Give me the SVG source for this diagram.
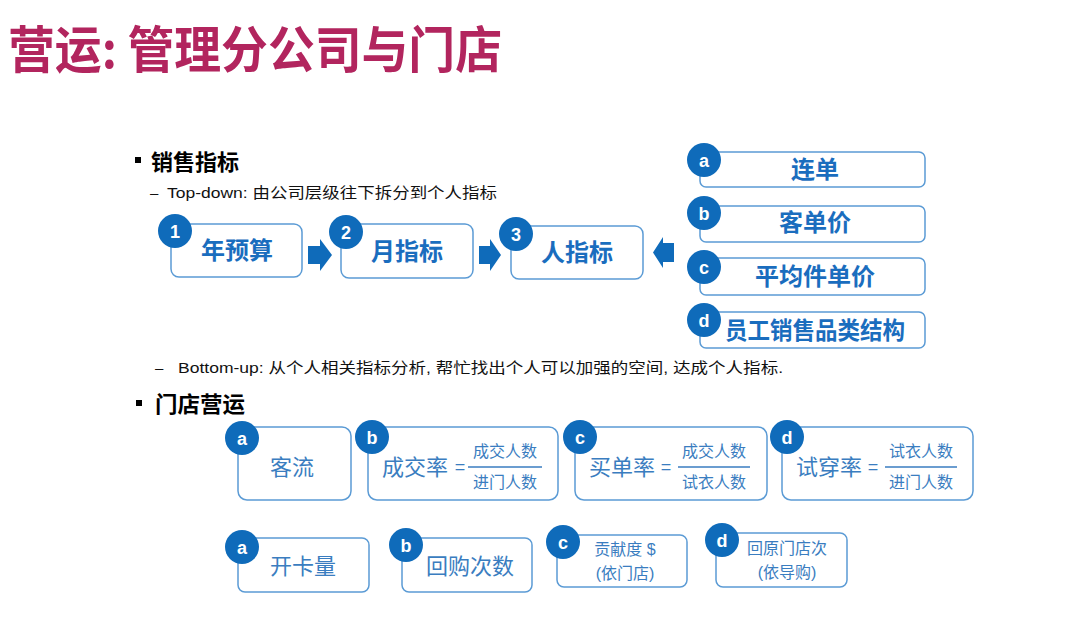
<svg xmlns="http://www.w3.org/2000/svg" width="1080" height="631" viewBox="0 0 1080 631">
<style>
.box{fill:#fff;stroke:#5B9BD5;stroke-width:1.5}
.dot{fill:#0F6BBA}
.lbl{font-family:"Liberation Sans","Noto Sans CJK SC",sans-serif;font-weight:bold;font-size:18px;fill:#fff;text-anchor:middle}
.bt{font-family:"Noto Sans CJK SC",sans-serif;font-weight:bold;font-size:24px;fill:#1A6DBE;text-anchor:middle}
.nt{font-family:"Noto Sans CJK SC",sans-serif;font-size:22px;fill:#3A7DC0;text-anchor:middle}
.sm{font-family:"Liberation Sans","Noto Sans CJK SC",sans-serif;font-size:16px;fill:#3A7DC0;text-anchor:middle}
.eq{font-family:"Liberation Sans",sans-serif;font-size:18px;fill:#3A7DC0;text-anchor:middle}
.fl{stroke:#3A7DC0;stroke-width:1.5}
.body{font-family:"Liberation Sans","Noto Sans CJK SC",sans-serif;font-size:15px;fill:#111}
.head{font-family:"Noto Sans CJK SC",sans-serif;font-weight:bold;font-size:22px;fill:#000}
.arr{fill:#0F6BBA}
</style>
<rect width="1080" height="631" fill="#fff"/>
<text x="8" y="68" font-family="'Noto Sans CJK SC',sans-serif" font-weight="bold" font-size="50" fill="#B2255E" textLength="494" lengthAdjust="spacingAndGlyphs">营运: 管理分公司与门店</text>

<rect x="135" y="157" width="6" height="6" fill="#000"/>
<text class="head" x="151" y="170" textLength="88" lengthAdjust="spacingAndGlyphs">销售指标</text>
<text class="body" x="150" y="198">–</text>
<text class="body" x="167" y="198" textLength="330" lengthAdjust="spacingAndGlyphs">Top-down: 由公司层级往下拆分到个人指标</text>

<g id="n1"><rect class="box" x="171" y="224" width="131" height="53" rx="8"/><circle class="dot" cx="175" cy="231" r="17"/><text class="lbl" x="175" y="238">1</text><text class="bt" x="237" y="259">年预算</text></g>
<g id="n2"><rect class="box" x="341" y="224" width="132" height="54" rx="8"/><circle class="dot" cx="346" cy="232" r="17"/><text class="lbl" x="346" y="239">2</text><text class="bt" x="407" y="260">月指标</text></g>
<g id="n3"><rect class="box" x="511" y="226" width="132" height="53" rx="8"/><circle class="dot" cx="516" cy="234" r="17"/><text class="lbl" x="516" y="241">3</text><text class="bt" x="577" y="261">人指标</text></g>

<g id="ka"><rect class="box" x="700" y="152" width="225" height="35" rx="6"/><circle class="dot" cx="704" cy="160" r="17"/><text class="lbl" x="704" y="167">a</text><text class="bt" x="815" y="178">连单</text></g>
<g id="kb"><rect class="box" x="700" y="206" width="225" height="36" rx="6"/><circle class="dot" cx="704" cy="213" r="17"/><text class="lbl" x="704" y="220">b</text><text class="bt" x="815" y="231">客单价</text></g>
<g id="kc"><rect class="box" x="700" y="258" width="225" height="37" rx="6"/><circle class="dot" cx="704" cy="267" r="17"/><text class="lbl" x="704" y="274">c</text><text class="bt" x="815" y="285">平均件单价</text></g>
<g id="kd"><rect class="box" x="700" y="312" width="225" height="36" rx="6"/><circle class="dot" cx="704" cy="320" r="17"/><text class="lbl" x="704" y="327">d</text><text class="bt" x="815" y="339" textLength="180" lengthAdjust="spacingAndGlyphs">员工销售品类结构</text></g>

<g id="connectors">
<path class="arr" d="M308,246 H320 V239 L332,255 L320,271 V264 H308 Z"/>
<path class="arr" d="M479,246 H490 V239 L501,255 L490,271 V264 H479 Z"/>
<path class="arr" d="M674,243 H663 V237 L653,252.5 L663,268 V262 H674 Z"/>
</g>

<text class="body" x="155" y="373">–</text>
<text class="body" x="178" y="373" textLength="605" lengthAdjust="spacingAndGlyphs">Bottom-up: 从个人相关指标分析, 帮忙找出个人可以加强的空间, 达成个人指标.</text>

<rect x="136" y="400" width="6" height="6" fill="#000"/>
<text class="head" x="155" y="412" textLength="90" lengthAdjust="spacingAndGlyphs">门店营运</text>

<g id="sa"><rect class="box" x="238" y="427" width="113" height="73" rx="9"/><circle class="dot" cx="242" cy="438" r="17"/><text class="lbl" x="242" y="445">a</text><text class="nt" x="292" y="475">客流</text></g>
<g id="sb"><rect class="box" x="368" y="427" width="190" height="73" rx="9"/><circle class="dot" cx="372" cy="437" r="17"/><text class="lbl" x="372" y="444">b</text><text class="nt" x="415" y="475" font-size="23">成交率</text><text class="eq" x="460" y="473">=</text><line class="fl" x1="468" y1="467" x2="542" y2="467"/><text class="sm" x="505" y="457">成交人数</text><text class="sm" x="505" y="488">进门人数</text></g>
<g id="sc"><rect class="box" x="575" y="427" width="192" height="73" rx="9"/><circle class="dot" cx="580" cy="437" r="17"/><text class="lbl" x="580" y="444">c</text><text class="nt" x="622" y="475" font-size="23">买单率</text><text class="eq" x="666" y="473">=</text><line class="fl" x1="678" y1="467" x2="750" y2="467"/><text class="sm" x="714" y="457">成交人数</text><text class="sm" x="714" y="488">试衣人数</text></g>
<g id="sd"><rect class="box" x="782" y="427" width="191" height="73" rx="9"/><circle class="dot" cx="787" cy="437" r="17"/><text class="lbl" x="787" y="444">d</text><text class="nt" x="829" y="475" font-size="23">试穿率</text><text class="eq" x="873" y="473">=</text><line class="fl" x1="885" y1="467" x2="957" y2="467"/><text class="sm" x="921" y="457">试衣人数</text><text class="sm" x="921" y="488">进门人数</text></g>

<g id="ta"><rect class="box" x="238" y="538" width="131" height="54" rx="7"/><circle class="dot" cx="242" cy="547" r="17"/><text class="lbl" x="242" y="554">a</text><text class="nt" x="303" y="574">开卡量</text></g>
<g id="tb"><rect class="box" x="402" y="538" width="130" height="54" rx="7"/><circle class="dot" cx="406" cy="545" r="17"/><text class="lbl" x="406" y="552">b</text><text class="nt" x="470" y="574">回购次数</text></g>
<g id="tc"><rect class="box" x="557" y="535" width="130" height="52" rx="7"/><circle class="dot" cx="563" cy="542" r="17"/><text class="lbl" x="563" y="549">c</text><text class="sm" x="625" y="555">贡献度 $</text><text class="sm" x="625" y="579">(依门店)</text></g>
<g id="td"><rect class="box" x="716" y="533" width="131" height="54" rx="7"/><circle class="dot" cx="722" cy="540" r="17"/><text class="lbl" x="722" y="547">d</text><text class="sm" x="787" y="554">回原门店次</text><text class="sm" x="787" y="578">(依导购)</text></g>
</svg>
